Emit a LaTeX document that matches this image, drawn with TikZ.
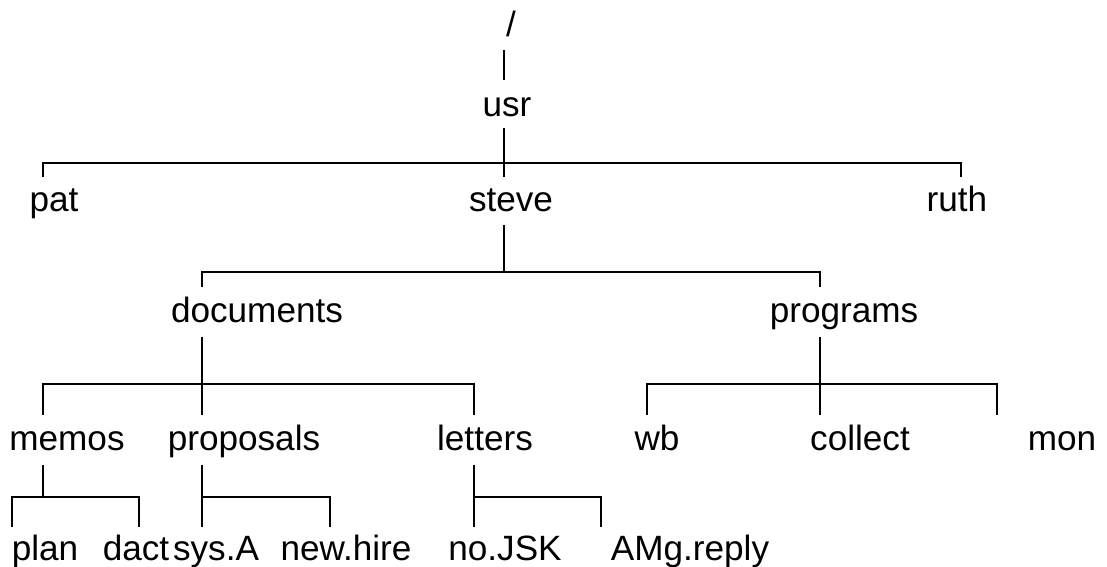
\documentclass[tikz,border=0pt]{standalone}
\usepackage{fontspec}
\setmainfont{Liberation Sans}
\usepackage{tikz}

\tikzset{
  dir/.style={anchor=base, inner sep=0pt, font=\fontsize{20}{24}\selectfont},
  link/.style={line width=0.9pt}
}

\begin{document}
\begin{tikzpicture}[x=0.02cm, y=-0.02cm]
  \useasboundingbox (0,0) rectangle (1107,567);

  % directory names
  \node[dir] (root) at (511,37) {/};
  \node[dir] (usr) at (507,117) {usr};
  \node[dir] (pat) at (54,212) {pat};
  \node[dir] (steve) at (511,212) {steve};
  \node[dir] (ruth) at (957,212) {ruth};
  \node[dir] (docs) at (257,323) {documents};
  \node[dir] (progs) at (844,323) {programs};
  \node[dir] (memos) at (67,451) {memos};
  \node[dir] (props) at (244,451) {proposals};
  \node[dir] (letters) at (485,451) {letters};
  \node[dir] (wb) at (657,451) {wb};
  \node[dir] (collect) at (860,451) {collect};
  \node[dir] (mon) at (1062,451) {mon};
  \node[dir] (plan) at (45,561) {plan};
  \node[dir] (dact) at (136,561) {dact};
  \node[dir] (sysa) at (216,561) {sys.A};
  \node[dir] (newhire) at (346,561) {new.hire};
  \node[dir] (nojsk) at (505,561) {no.JSK};
  \node[dir] (amg) at (690,561) {AMg.reply};

  % line ends and joints
  \coordinate (root-b) at (504,50);
  \coordinate (usr-t) at (504,80);
  \coordinate (usr-b) at (504,128);
  \coordinate (usr-j) at (504,163);
  \coordinate (pat-t) at (43,177);
  \coordinate (steve-t) at (504,177);
  \coordinate (ruth-t) at (961,177);
  \coordinate (steve-b) at (504,225);
  \coordinate (steve-j) at (504,272);
  \coordinate (docs-t) at (202,287);
  \coordinate (progs-t) at (820,287);
  \coordinate (docs-b) at (202,337);
  \coordinate (docs-j) at (202,384);
  \coordinate (progs-b) at (820,337);
  \coordinate (progs-j) at (820,384);
  \coordinate (memos-t) at (43,415);
  \coordinate (props-t) at (202,415);
  \coordinate (letters-t) at (474,415);
  \coordinate (wb-t) at (647,415);
  \coordinate (collect-t) at (820,415);
  \coordinate (mon-t) at (997,415);
  \coordinate (memos-b) at (43,465);
  \coordinate (memos-j) at (43,497);
  \coordinate (props-b) at (202,465);
  \coordinate (props-j) at (202,497);
  \coordinate (letters-b) at (474,465);
  \coordinate (letters-j) at (474,497);
  \coordinate (plan-t) at (12,527);
  \coordinate (dact-t) at (139,527);
  \coordinate (sysa-t) at (202,527);
  \coordinate (newhire-t) at (330,527);
  \coordinate (nojsk-t) at (474,527);
  \coordinate (amg-t) at (601,527);

  % tree links
  \draw[link] (root-b) -- (usr-t);
  \draw[link] (usr-b) -- (steve-t);
  \draw[link] (pat-t) |- (usr-j) -| (ruth-t);

  \draw[link] (steve-b) -- (steve-j);
  \draw[link] (docs-t) |- (steve-j) -| (progs-t);

  \draw[link] (docs-b) -- (props-t);
  \draw[link] (memos-t) |- (docs-j) -| (letters-t);
  \draw[link] (progs-b) -- (collect-t);
  \draw[link] (wb-t) |- (progs-j) -| (mon-t);

  \draw[link] (memos-b) -- (memos-j);
  \draw[link] (plan-t) |- (memos-j) -| (dact-t);
  \draw[link] (props-b) -- (sysa-t);
  \draw[link] (props-j) -| (newhire-t);
  \draw[link] (letters-b) -- (nojsk-t);
  \draw[link] (letters-j) -| (amg-t);
\end{tikzpicture}
\end{document}
